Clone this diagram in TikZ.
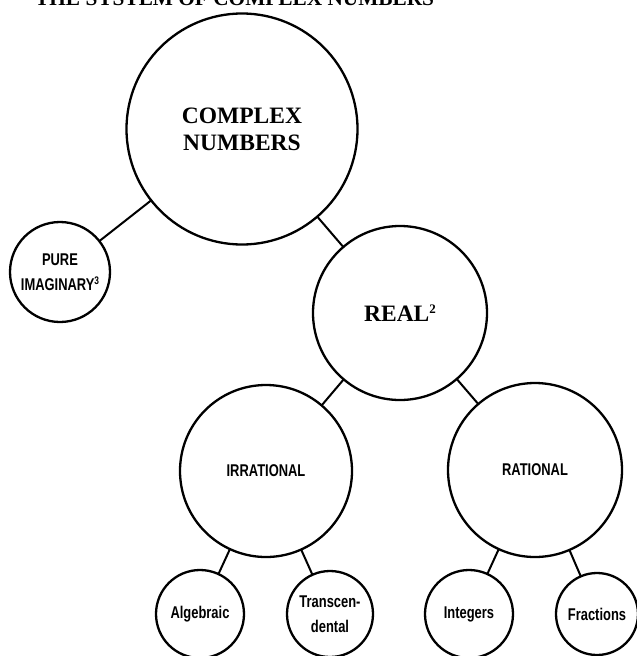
\documentclass[tikz,border=0pt]{standalone}
\usepackage{fontspec}
\setmainfont{Liberation Serif}
\newfontfamily\condsans[FakeStretch=0.76]{Liberation Sans}
\newcommand{\smallsup}[2]{\raisebox{0.7ex}{\fontsize{#1}{#1}\selectfont #2}}
\begin{document}
\begin{tikzpicture}[x=1pt,y=-1pt,
  circ/.style={circle, draw, line width=2.3pt, inner sep=0pt, align=center, fill=white},
  serifbig/.style={font=\bfseries\fontsize{23.5}{27}\selectfont},
  sanslab/.style={font=\condsans\bfseries\fontsize{17}{25.5}\selectfont},
  conn/.style={line width=2pt}]
\clip (0,0) rectangle (637,656);
\fill[white] (0,0) rectangle (637,656);
% title (cut off at top edge, as in the reference)
\node[anchor=base west, inner sep=0pt, font=\bfseries\fontsize{21.3}{24}\selectfont] (title) at (35,5) {THE SYSTEM OF COMPLEX NUMBERS};
% centres
\coordinate (cbig) at (242,129);
\coordinate (cpure) at (60,272);
\coordinate (creal) at (400,313);
\coordinate (cirr) at (266,471);
\coordinate (crat) at (535,470);
\coordinate (calg) at (200,614);
\coordinate (ctra) at (330,614);
\coordinate (cint) at (469,614);
\coordinate (cfra) at (597,614);
% connectors
\draw[conn] (cbig) -- (cpure);
\draw[conn] (cbig) -- (creal);
\draw[conn] (creal) -- (cirr);
\draw[conn] (creal) -- (crat);
\draw[conn] (cirr) -- (calg);
\draw[conn] (cirr) -- (ctra);
\draw[conn] (crat) -- (cint);
\draw[conn] (crat) -- (cfra);
% circles
\node[circ, serifbig, minimum size=231pt] (big) at (cbig) {COMPLEX\\NUMBERS};
\node[circ, sanslab, minimum size=100pt] (pure) at (cpure) {PURE\\IMAGINARY\smallsup{11}{3}};
\node[circ, serifbig, minimum size=174pt] (real) at (creal) {REAL\smallsup{13}{2}};
\node[circ, sanslab, minimum size=172pt] (irr) at (cirr) {IRRATIONAL};
\node[circ, sanslab, minimum size=174pt] (rat) at (crat) {RATIONAL};
\node[circ, sanslab, minimum size=88pt] (alg) at (calg) {Algebraic};
\node[circ, sanslab, minimum size=86pt] (tra) at (ctra) {Transcen-\\dental};
\node[circ, sanslab, minimum size=88pt] (int) at (cint) {Integers};
\node[circ, sanslab, minimum size=82pt] (fra) at (cfra) {Fractions};
\end{tikzpicture}
\end{document}
